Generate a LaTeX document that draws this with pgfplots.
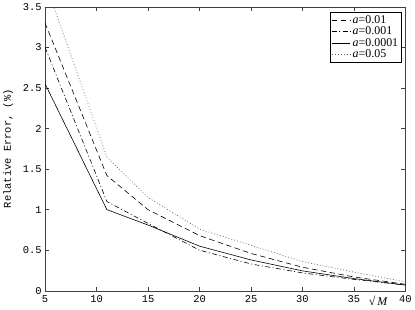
\documentclass[border=0pt]{standalone}
\usepackage{fontspec}
\setmainfont{Liberation Serif}
\setmonofont{Liberation Mono}
\usepackage{pgfplots}
\pgfplotsset{compat=1.18}
\begin{document}
\begin{tikzpicture}
\begin{axis}[
    scale only axis,
    width=363pt, height=286pt,
    xmin=5, xmax=40,
    ymin=0, ymax=3.5,
    xtick={5,10,...,40},
    ytick={0,0.5,...,3.5},
    xtick pos=both, ytick pos=both,
    tick align=inside,
    major tick length=4pt,
    axis line style={black!75, line width=0.5pt},
    tick style={black!75, line width=0.5pt},
    /pgf/number format/assume math mode=true,
    ticklabel style={font=\ttfamily\fontsize{10.5}{12}\selectfont},
    xticklabel style={yshift=-1.5pt},
    yticklabel style={/pgf/number format/fixed, /pgf/number format/precision=1},
    ylabel={Relative Error, (\%)},
    ylabel style={font=\ttfamily\fontsize{10.5}{12}\selectfont, yshift=3pt},
    xlabel={√\,\textit{M}},
    xlabel style={font=\fontsize{12}{12}\selectfont, at={(axis description cs:0.925,0)}, anchor=north, yshift=-2pt},
    legend style={at={(rel axis cs:0.99,0.983)}, anchor=north east,
        font=\fontsize{12}{13}\selectfont, draw=black, line width=0.4pt,
        inner sep=1.5pt, row sep=-2pt},
    legend image post style={xscale=1.1},
    legend cell align=left,
    clip=true,
]
\addplot[black, line width=0.6pt, dash pattern=on 5.5pt off 3.5pt] coordinates {
(5,3.3) (11,1.42) (15,1.0) (20,0.68) (25,0.46) (30,0.29) (35,0.17) (40,0.08)};
\addlegendentry{\textit{a}=0.01}
\addplot[black, line width=0.6pt, dash pattern=on 5pt off 2.5pt on 1pt off 2.5pt] coordinates {
(5,3.0) (11,1.1) (15,0.83) (20,0.5) (25,0.33) (30,0.22) (35,0.14) (40,0.07)};
\addlegendentry{\textit{a}=0.001}
\addplot[black, line width=0.6pt] coordinates {
(5,2.55) (11,1.0) (15,0.81) (20,0.55) (25,0.38) (30,0.245) (35,0.15) (40,0.07)};
\addlegendentry{\textit{a}=0.0001}
\addplot[black!60, line width=0.6pt, dash pattern=on 1pt off 2pt] coordinates {
(5,3.8) (11,1.65) (15,1.15) (20,0.76) (25,0.56) (30,0.36) (35,0.23) (40,0.11)};
\addlegendentry{\textit{a}=0.05}
\end{axis}
\end{tikzpicture}
\end{document}
